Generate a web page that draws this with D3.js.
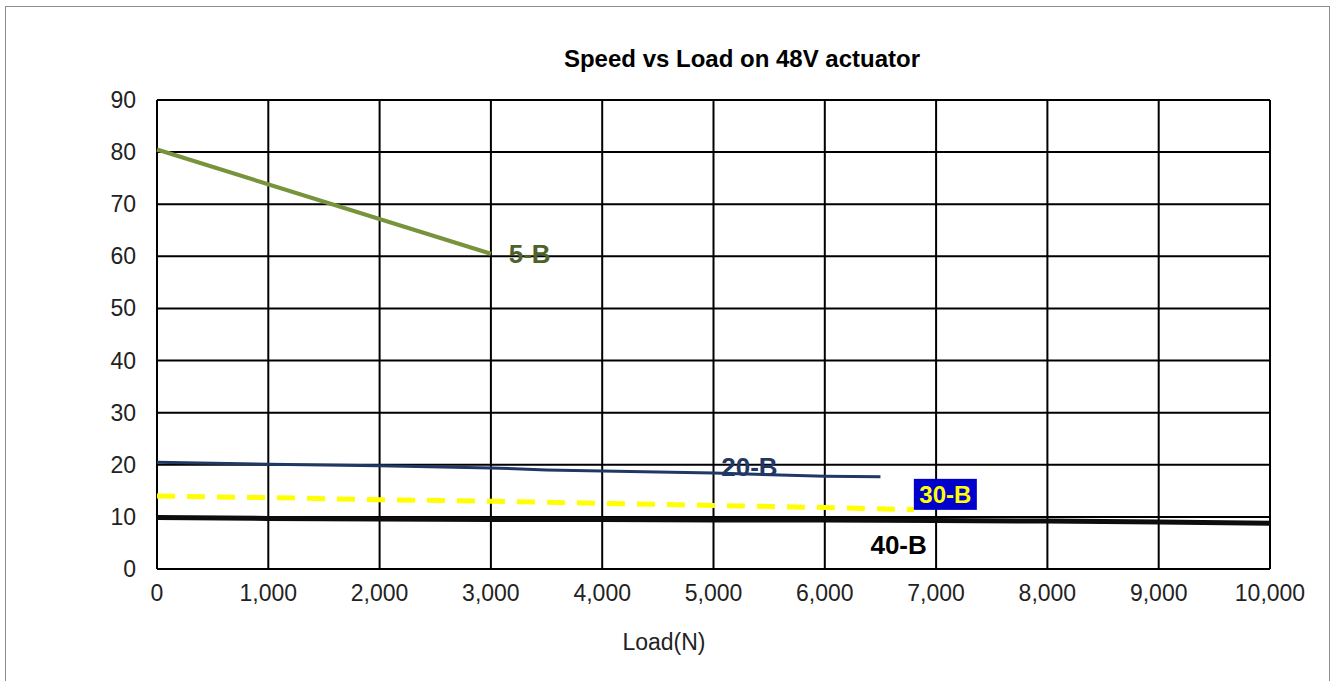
<!DOCTYPE html>
<html>
<head>
<meta charset="utf-8">
<script src="https://cdn.jsdelivr.net/npm/d3@7"></script>
<style>
  body { margin: 0; background: #fff; }
  svg { display: block; font-family: "Liberation Sans", Arial, sans-serif; }
</style>
</head>
<body>
<div id="chart"></div>
<script>
// Speed (mm/s) vs load (N) for each actuator variant
const load5B = [0, 3000];
const speed5B = [80.5, 60.5];
const load20B = [0, 1000, 2000, 3000, 3500, 5000, 6000, 6500];
const speed20B = [20.5, 20.1, 19.8, 19.4, 19.0, 18.4, 17.8, 17.7];
const load30B = [0, 1000, 2000, 3000, 4000, 5000, 6000, 6800];
const speed30B = [14.0, 13.7, 13.3, 13.0, 12.6, 12.2, 11.8, 11.4];
const load40B = [0, 1000, 2000, 3000, 4000, 5000, 6000, 7000, 8000, 9000, 10000];
const speed40B = [9.9, 9.7, 9.6, 9.5, 9.5, 9.4, 9.4, 9.3, 9.2, 9.0, 8.8];
const xTicks = [0, 1000, 2000, 3000, 4000, 5000, 6000, 7000, 8000, 9000, 10000];
const yTicks = [0, 10, 20, 30, 40, 50, 60, 70, 80, 90];

const W = 1333, H = 681;
const MARGIN = { LEFT: 157, RIGHT: 63, TOP: 100, BOTTOM: 112 };
const WIDTH = W - MARGIN.LEFT - MARGIN.RIGHT;
const HEIGHT = H - MARGIN.TOP - MARGIN.BOTTOM;

const svg = d3.select("#chart").append("svg")
    .attr("width", W)
    .attr("height", H);

svg.append("rect")
    .attr("x", 5.5).attr("y", 6.5)
    .attr("width", 1324).attr("height", 690)
    .attr("fill", "#fff")
    .attr("stroke", "#8c8c8c");

svg.append("text")
    .attr("x", 742).attr("y", 67)
    .attr("text-anchor", "middle")
    .attr("font-size", 24).attr("font-weight", "bold")
    .text("Speed vs Load on 48V actuator");

const g = svg.append("g")
    .attr("transform", `translate(${MARGIN.LEFT}, ${MARGIN.TOP})`);

const x = d3.scaleLinear().domain([0, 10000]).range([0, WIDTH]);
const y = d3.scaleLinear().domain([0, 90]).range([HEIGHT, 0]);

// grid
g.append("g").selectAll("line").data(yTicks).enter().append("line")
    .attr("x1", 0).attr("x2", WIDTH)
    .attr("y1", d => y(d)).attr("y2", d => y(d))
    .attr("stroke", "#000").attr("stroke-width", 2);
g.append("g").selectAll("line").data(xTicks).enter().append("line")
    .attr("y1", 0).attr("y2", HEIGHT)
    .attr("x1", d => x(d)).attr("x2", d => x(d))
    .attr("stroke", "#000").attr("stroke-width", 2);

// axes labels
const fmt = d3.format(",");
g.append("g").selectAll("text").data(xTicks).enter().append("text")
    .attr("x", d => x(d)).attr("y", HEIGHT + 32)
    .attr("text-anchor", "middle").attr("font-size", 23).attr("fill", "#222")
    .text(d => fmt(d));
g.append("g").selectAll("text").data(yTicks).enter().append("text")
    .attr("x", -21).attr("y", d => y(d) + 8)
    .attr("text-anchor", "end").attr("font-size", 23).attr("fill", "#222")
    .text(d => d);

svg.append("text")
    .attr("x", 664).attr("y", 650)
    .attr("text-anchor", "middle").attr("font-size", 23).attr("fill", "#222")
    .text("Load(N)");

const line = d3.line().x(d => x(d[0])).y(d => y(d[1]));

const series = [
    { name: "40-B", loads: load40B, speeds: speed40B, color: "#0d0d0d", width: 5, dash: null },
    { name: "30-B", loads: load30B, speeds: speed30B, color: "#ffff00", width: 5, dash: "18,12" },
    { name: "20-B", loads: load20B, speeds: speed20B, color: "#1f3864", width: 3, dash: null },
    { name: "5-B", loads: load5B, speeds: speed5B, color: "#77933c", width: 4, dash: null }
];

series.forEach(s => {
    g.append("path")
        .datum(d3.zip(s.loads, s.speeds))
        .attr("d", line)
        .attr("fill", "none")
        .attr("stroke", s.color)
        .attr("stroke-width", s.width)
        .attr("stroke-dasharray", s.dash);
});

// series labels
g.append("text")
    .attr("x", x(3160)).attr("y", y(60.5) + 9)
    .attr("font-size", 26).attr("font-weight", "bold").attr("fill", "#4f6228")
    .text("5-B");
g.append("text")
    .attr("x", x(5070)).attr("y", y(19.6) + 9)
    .attr("font-size", 26).attr("font-weight", "bold").attr("fill", "#1f3864")
    .text("20-B");
g.append("rect")
    .attr("x", x(6800)).attr("y", y(17.3))
    .attr("width", 63).attr("height", 31)
    .attr("fill", "#0000cc");
g.append("text")
    .attr("x", x(6800) + 31.5).attr("y", y(17.3) + 24)
    .attr("text-anchor", "middle")
    .attr("font-size", 24).attr("font-weight", "bold").attr("fill", "#ffff00")
    .text("30-B");
g.append("text")
    .attr("x", x(6410)).attr("y", y(4.6) + 9)
    .attr("font-size", 26).attr("font-weight", "bold").attr("fill", "#000")
    .text("40-B");
</script>
</body>
</html>
